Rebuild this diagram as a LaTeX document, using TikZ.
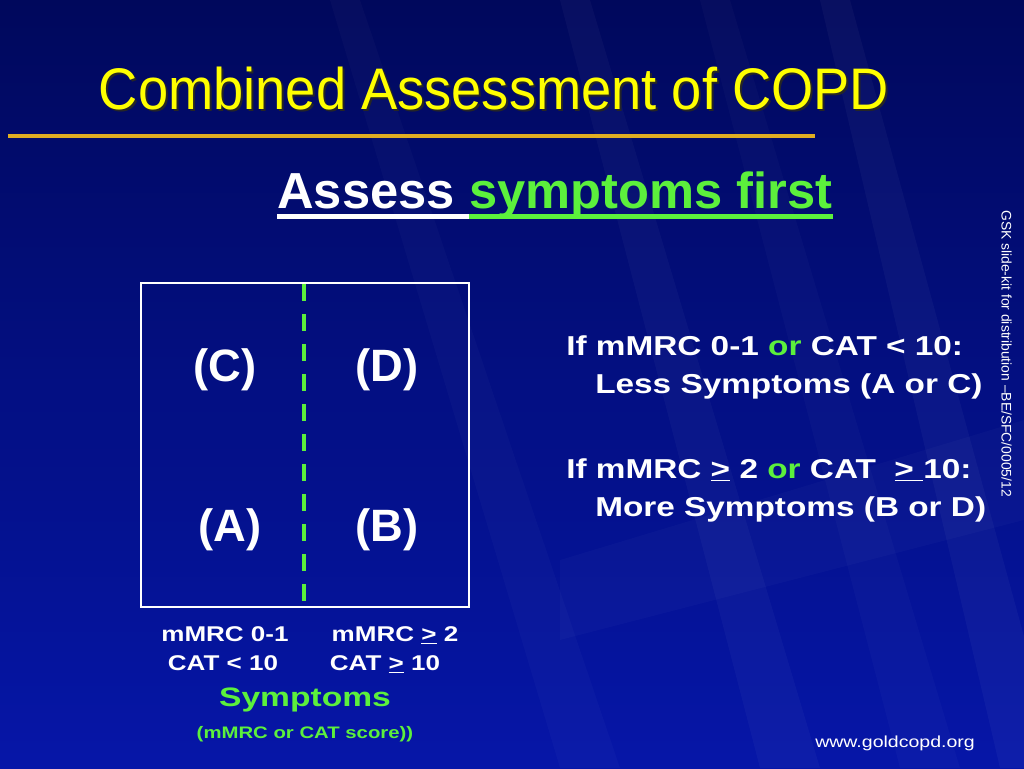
\documentclass[tikz,border=0pt]{standalone}
\usepackage{fontspec}
\setmainfont{Liberation Sans}
\usetikzlibrary{shadings}
\definecolor{bgdark}{HTML}{00085C}
\definecolor{bglight}{HTML}{0616A8}
\definecolor{titleyellow}{HTML}{FFFF00}
\definecolor{rulegold}{HTML}{E0AE22}
\definecolor{lgreen}{HTML}{5CF03C}
\newcommand{\wide}[1]{\scalebox{1.22}[1]{#1}}
\tikzset{
  white text/.style={text=white, font=\bfseries\fontsize{16}{19}\selectfont, inner sep=0pt},
  quad/.style={text=white, font=\bfseries\fontsize{34}{40}\selectfont, inner sep=0pt},
  rtext/.style={text=white, font=\bfseries\fontsize{20.5}{24}\selectfont, inner sep=0pt, anchor=base west},
  subt/.style={inner sep=0pt, anchor=base west, font=\bfseries\fontsize{38}{44}\selectfont},
}
\begin{document}
\begin{tikzpicture}[x=0.75pt,y=-0.75pt]
\useasboundingbox (0,0) rectangle (1024,768);
% background
\shade[left color=bgdark, right color=bglight, shading angle=0] (0,0) rectangle (1024,768);
\shade[top color=bgdark, bottom color=bglight, opacity=0.4] (0,0) rectangle (1024,768);
\foreach \a/\b/\o in {330/560/0.025, 560/760/0.03, 820/1000/0.035, 700/900/0.025} {
  \fill[white, opacity=\o] (\a,0) -- (\a+30,0) -- (\b+60,768) -- (\b,768) -- cycle;
}
\fill[white, opacity=0.025] (560,560) -- (1024,420) -- (1024,520) -- (560,640) -- cycle;
% title
\node[anchor=base, inner sep=0pt, text=black!85, font=\fontsize{44}{50}\selectfont] (titleshadow) at (496,111) {\scalebox{0.925}[1]{Combined Assessment of COPD}};
\node[anchor=base, inner sep=0pt, text=titleyellow, font=\fontsize{44}{50}\selectfont] (title) at (494,109) {\scalebox{0.925}[1]{Combined Assessment of COPD}};
\coordinate (ruleL) at (8,136);
\coordinate (ruleR) at (815,136);
\draw[rulegold, line width=2.4pt] (ruleL) -- (ruleR);
% subtitle
\node[subt, text=white] (sub1) at (277,208) {Assess\hspace*{0.28em}\null};
\node[subt, text=lgreen] (sub2) at (sub1.base east) {symptoms first};
\draw[white, line width=3.4pt] ([yshift=-6.2pt]sub1.base west) -- ([yshift=-6.2pt]sub1.base east);
\draw[lgreen, line width=3.4pt] ([yshift=-6.2pt]sub2.base west) -- ([yshift=-6.2pt]sub2.base east);
% box
\coordinate (bTL) at (141,283);
\coordinate (bBR) at (469,607);
\draw[white, line width=2.2pt] (bTL) rectangle (bBR);
\coordinate (dTop) at (304,284);
\coordinate (dBot) at (304,606);
\draw[lgreen, line width=3.5pt, dash pattern=on 12.75pt off 9.75pt] (dTop) -- (dBot);
\node[quad] (C) at (225,370) {(C)};
\node[quad] (D) at (387,370) {(D)};
\node[quad] (A) at (230,530) {(A)};
\node[quad] (B) at (387,530) {(B)};
% axis labels
\node[white text, anchor=base] (m1) at (225,641) {\wide{mMRC 0-1}};
\node[white text, anchor=base] (c1) at (223,670) {\wide{CAT < 10}};
\node[white text, anchor=base] (m2) at (395,641) {\wide{mMRC \underline{>} 2}};
\node[white text, anchor=base] (c2) at (385,670) {\wide{CAT \underline{>} 10}};
\node[anchor=base, inner sep=0pt, text=lgreen, font=\bfseries\fontsize{20}{24}\selectfont] (sym) at (305,706) {\scalebox{1.26}[1]{Symptoms}};
\node[anchor=base, inner sep=0pt, text=lgreen, font=\bfseries\fontsize{12.5}{15}\selectfont] (symsub) at (305,738) {\wide{(mMRC or CAT score))}};
% right text
\node[rtext] (r1) at (566,355) {\wide{If mMRC 0-1 \textcolor{lgreen}{or} CAT < 10:}};
\node[rtext] (r2) at (595,393) {\wide{Less Symptoms (A or C)}};
\node[rtext] (r3) at (566,478) {\wide{If mMRC \underline{>} 2 \textcolor{lgreen}{or} CAT\ \ \underline{>\ }10:}};
\node[rtext] (r4) at (595,516) {\wide{More Symptoms (B or D)}};
% side note
\node[rotate=-90, anchor=north west, inner sep=0pt, text=white, font=\fontsize{10.4}{12}\selectfont] (gsk) at (1012,210) {GSK slide-kit for distribution –BE/SFC/0005/12};
\node[anchor=base west, inner sep=0pt, text=white, font=\fontsize{12}{14}\selectfont] (url) at (815,747) {\wide{www.goldcopd.org}};
\end{tikzpicture}
\end{document}
